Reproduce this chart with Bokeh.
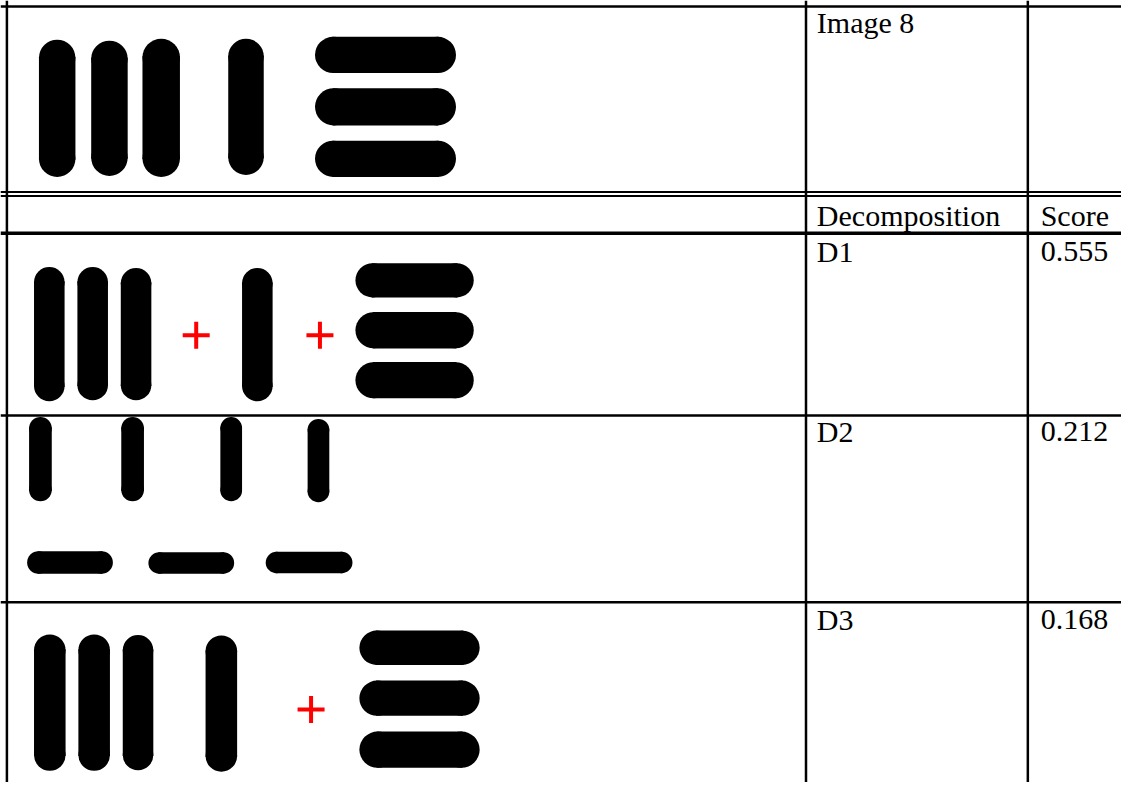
import numpy as np
from bokeh.plotting import figure
from bokeh.models import Range1d
from bokeh.core.properties import value
from bokeh.embed import file_html
from bokeh.resources import INLINE

# ---------------- data (reference-pixel coordinates) ----------------
# Image 8 (top cell): four vertical strokes + three horizontal strokes
img8_cx = [57.5, 110.5, 163.0, 249.0, 390.5, 390.5, 390.5]
img8_cy = [110.0, 110.0, 109.5, 108.5, 55.5, 108.5, 161.5]
img8_w = [37, 37, 38, 36, 143, 143, 143]
img8_h = [140, 138, 141, 139, 37, 38, 37]

# Decomposition D1
d1_cx = [49.5, 93.5, 137.5, 260.5, 420.0, 420.0, 420.0]
d1_cy = [340.5, 340.0, 340.5, 341.0, 285.5, 336.5, 387.5]
d1_w = [31, 31, 31, 31, 120, 120, 120]
d1_h = [137, 136, 135, 136, 35, 37, 37]
d1_plus_x = [198.5, 324.0]
d1_plus_y = [341.5, 341.5]

# Decomposition D2
d2_cx = [40.5, 134.0, 234.0, 322.5, 70.5, 193.5, 313.0]
d2_cy = [468.0, 468.0, 468.0, 469.5, 573.5, 574.0, 573.5]
d2_w = [23, 23, 22, 22, 87, 87, 88]
d2_h = [86, 86, 86, 85, 23, 22, 22]

# Decomposition D3
d3_cx = [50.0, 95.0, 139.5, 224.0, 425.0, 425.0, 425.0]
d3_cy = [716.5, 716.5, 716.5, 717.5, 660.5, 712.0, 764.5]
d3_w = [32, 32, 31, 32, 122, 122, 122]
d3_h = [139, 139, 138, 139, 35, 36, 37]
d3_plus_x = [315.0]
d3_plus_y = [723.5]

# Table text
header_label = "Image 8"
col_headers = ["Decomposition", "Score"]
row_labels = ["D1", "D2", "D3"]
scores = [0.555, 0.212, 0.168]
header_baselines = [33, 230]
row_baselines = [267, 450, 642]

# Table rules
hline_y = [6, 195.5, 199.5, 237.5, 423.5, 614]
hline_w = [2.5, 2, 2, 3.5, 2.5, 2.5]
vline_x = [6.5, 817, 1042]
vline_w = [2.5, 2.5, 2.5]

# ---------------- figure ----------------
W, H = 1121, 782          # fits the 1137x798 window with its 8px margin
REF_W, REF_H = 1137, 798  # coordinate space of the reference
p = figure(width=W, height=H, x_range=Range1d(0, REF_W), y_range=Range1d(REF_H, 0),
           output_backend="svg", toolbar_location=None, min_border=0,
           x_axis_type=None, y_axis_type=None, outline_line_color=None,
           background_fill_color="white", border_fill_color="white")

# capsules
cx = np.array(img8_cx + d1_cx + d2_cx + d3_cx, dtype=float)
cy = np.array(img8_cy + d1_cy + d2_cy + d3_cy, dtype=float)
w = np.array(img8_w + d1_w + d2_w + d3_w, dtype=float)
h = np.array(img8_h + d1_h + d2_h + d3_h, dtype=float)
r = np.minimum(w, h) / 2.0
vert = h >= w
d = np.where(vert, h / 2 - r, w / 2 - r)
body_w = np.where(vert, w, w - 2 * r + 2)
body_h = np.where(vert, h - 2 * r + 2, h)
p.rect(x=cx, y=cy, width=body_w, height=body_h, fill_color="black", line_color=None)
ex = np.concatenate([cx - np.where(vert, 0, d), cx + np.where(vert, 0, d)])
ey = np.concatenate([cy - np.where(vert, d, 0), cy + np.where(vert, d, 0)])
ew = np.concatenate([2 * r, 2 * r])
p.ellipse(x=ex, y=ey, width=ew, height=ew, fill_color="black", line_color=None)

# red plus signs
p.scatter(x=d1_plus_x + d3_plus_x, y=d1_plus_y + d3_plus_y, marker="cross",
          size=27, line_width=4, line_color="#ff0000")

# table rules
p.segment(x0=[0] * len(hline_y), y0=hline_y, x1=[REF_W] * len(hline_y), y1=hline_y,
          line_width=hline_w, line_color="black")
p.segment(x0=vline_x, y0=[0] * len(vline_x), x1=vline_x, y1=[REF_H] * len(vline_x),
          line_width=vline_w, line_color="black")

# texts
BASELINE_SHIFT = -10.5   # compensates the renderer's baseline placement
col2_x, col3_x = 828, 1055
tx = [col2_x, col2_x, col3_x]
ty = [header_baselines[0], header_baselines[1], header_baselines[1]]
tt = [header_label] + col_headers
for lab, sc, yb in zip(row_labels, scores, row_baselines):
    tx += [col2_x, col3_x]
    ty += [yb, yb]
    tt += [lab, "{:.3f}".format(sc)]
ty = [v + BASELINE_SHIFT for v in ty]
p.text(x=tx, y=ty, text=tt, text_font=value("Liberation Serif"),
       text_font_size=value("30px"), text_baseline="alphabetic", text_align="left",
       text_color="black")

open("out.html", "w").write(file_html(p, INLINE))
